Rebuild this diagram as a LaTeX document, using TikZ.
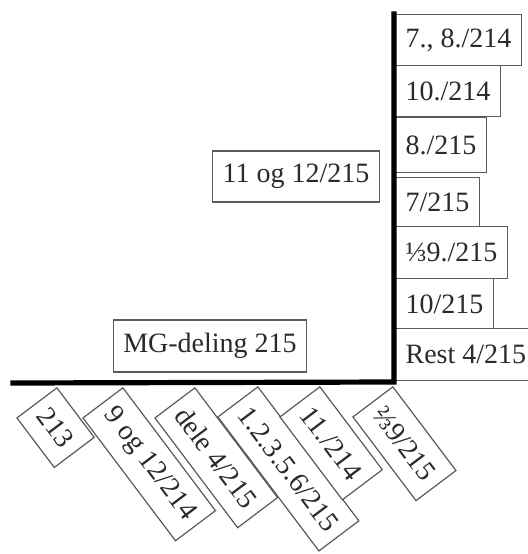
\documentclass[tikz,border=0pt]{standalone}
\usepackage{fontspec}
\setmainfont{Liberation Serif}
\usepackage{tikz}
\usetikzlibrary{positioning}
\definecolor{ink}{HTML}{2A2A2A}
\definecolor{edge}{HTML}{5A5A5A}
\tikzset{
  lot/.style={draw=edge,line width=0.6pt,fill=white,text=ink,inner xsep=5pt,inner ysep=0pt,minimum height=25.5pt,font=\fontsize{14}{16}\selectfont},
  rlot/.style={lot,anchor=north west},
  dlot/.style={lot,anchor=north west,rotate=-53,minimum height=25pt},
  axis/.style={line width=2.6pt,black,line cap=rect},
}

\begin{document}
\begin{tikzpicture}[x=0.5pt,y=-0.5pt]
\useasboundingbox (0,0) rectangle (528,554);
% right side, stacked along the upright
\node[rlot] (r1) at (395,14) {7., 8./214};
\node[rlot] (r2) at (395,65) {10./214};
\node[rlot,minimum height=27.5pt] (r3) at (395,117) {8./215};
\node[rlot,minimum height=24.5pt] (r4) at (395,177) {7/215};
\node[rlot,minimum height=26pt] (r5) at (395,226) {⅓9./215};
\node[rlot] (r6) at (395,278) {10/215};
\node[rlot,minimum height=26pt] (r7) at (395,328) {Rest 4/215};
% free boxes
\node[lot] (f1) at (296,176.5) {11 og 12/215};
\node[lot,minimum height=26pt] (f2) at (210,346) {MG-deling 215};
% hanging below the base line
\node[dlot] (d1) at (57,387) {213};
\node[dlot] (d2) at (123,387) {9 og 12/214};
\node[dlot] (d3) at (195,387) {dele 4/215};
\node[dlot] (d4) at (258,386) {1.2.3.5.6/215};
\node[dlot] (d5) at (320,386) {11./214};
\node[dlot] (d6) at (393,386) {⅔9/215};
% axes
\coordinate (top) at (394,14);
\coordinate (knee) at (394,382);
\coordinate (left) at (13,383);
\draw[axis] (left) -- (knee) -- (top);
\end{tikzpicture}
\end{document}
